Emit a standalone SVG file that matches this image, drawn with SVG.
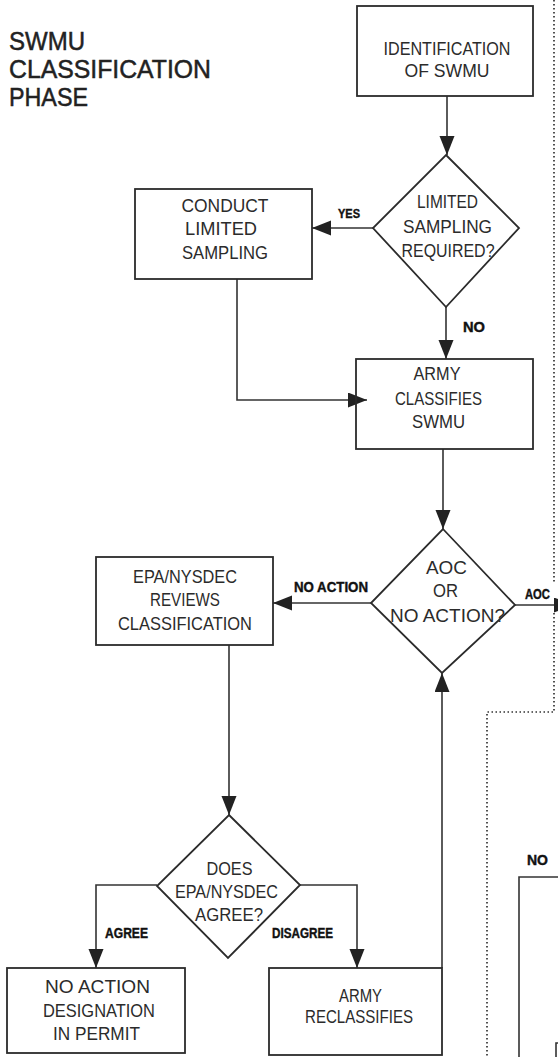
<svg xmlns="http://www.w3.org/2000/svg" width="558" height="1057" viewBox="0 0 558 1057">
<style>
.bg{fill:#fff}
.box{fill:none;stroke:#2b2b2b;stroke-width:1.8}
.ln{fill:none;stroke:#333;stroke-width:1.6}
.dot{fill:none;stroke:#333;stroke-width:1.7;stroke-dasharray:1.5 2.5}
.t{font-family:"Liberation Sans",Arial,sans-serif;font-size:18px;fill:#2b2b2b;text-anchor:middle}
.lb{font-family:"Liberation Sans",Arial,sans-serif;font-size:14px;font-weight:bold;fill:#111;stroke:#111;stroke-width:0.4;text-anchor:middle}
.title{font-family:"Liberation Sans",Arial,sans-serif;font-size:26px;fill:#222;stroke:#222;stroke-width:0.5}
</style>
<defs>
<marker id="ah" markerUnits="userSpaceOnUse" markerWidth="20" markerHeight="16" refX="19" refY="7.5" orient="auto">
<path d="M0,0 L19,7.5 L0,15 z" fill="#222"/>
</marker>
</defs>
<rect class="bg" x="0" y="0" width="558" height="1057"/>

<g id="title">
<text class="title" x="9" y="50" textLength="76" lengthAdjust="spacingAndGlyphs">SWMU</text>
<text class="title" x="9" y="78" textLength="202" lengthAdjust="spacingAndGlyphs">CLASSIFICATION</text>
<text class="title" x="9" y="106" textLength="79" lengthAdjust="spacingAndGlyphs">PHASE</text>
</g>

<g id="boundary">
<path class="dot" d="M554,0 V583 M554,613 V712 H487 V1057"/>
<path class="ln" d="M519,1057 V877 H558"/>
<path class="ln" d="M558,1043 H556 V1057"/>
<text class="lb" x="537.5" y="865" textLength="21" lengthAdjust="spacingAndGlyphs">NO</text>
</g>

<g id="connectors">
<path class="ln" d="M447,96 V155" marker-end="url(#ah)"/>
<path class="ln" d="M373,228 H312" marker-end="url(#ah)"/>
<path class="ln" d="M237,279 V400 H367" marker-end="url(#ah)"/>
<path class="ln" d="M446,307 V359" marker-end="url(#ah)"/>
<path class="ln" d="M443,449 V529" marker-end="url(#ah)"/>
<path class="ln" d="M371,603 H273" marker-end="url(#ah)"/>
<path class="ln" d="M515,605 H573" marker-end="url(#ah)"/>
<path class="ln" d="M229,645 V815" marker-end="url(#ah)"/>
<path class="ln" d="M157,885 H96 V968" marker-end="url(#ah)"/>
<path class="ln" d="M300,885 H357 V968" marker-end="url(#ah)"/>
<path class="ln" d="M442,968 V673" marker-end="url(#ah)"/>
<text class="lb" x="349" y="218" textLength="22" lengthAdjust="spacingAndGlyphs" style="font-size:13px">YES</text>
<text class="lb" x="474" y="332" textLength="22" lengthAdjust="spacingAndGlyphs">NO</text>
<text class="lb" x="331" y="592" textLength="74" lengthAdjust="spacingAndGlyphs">NO ACTION</text>
<text class="lb" x="537.5" y="599" textLength="25" lengthAdjust="spacingAndGlyphs">AOC</text>
<text class="lb" x="126.5" y="938" textLength="43" lengthAdjust="spacingAndGlyphs">AGREE</text>
<text class="lb" x="302.5" y="938" textLength="61" lengthAdjust="spacingAndGlyphs">DISAGREE</text>
</g>

<g id="identification">
<rect class="box" x="357" y="6" width="176" height="90"/>
<text class="t" x="447" y="55" textLength="127" lengthAdjust="spacingAndGlyphs">IDENTIFICATION</text>
<text class="t" x="447" y="77" textLength="85" lengthAdjust="spacingAndGlyphs">OF SWMU</text>
</g>

<g id="limited-sampling-required">
<polygon class="box" points="446,155 519,228 446,307 373,228"/>
<text class="t" x="447.5" y="208" textLength="61" lengthAdjust="spacingAndGlyphs">LIMITED</text>
<text class="t" x="447.5" y="233" textLength="89" lengthAdjust="spacingAndGlyphs">SAMPLING</text>
<text class="t" x="448" y="257" textLength="93" lengthAdjust="spacingAndGlyphs">REQUIRED?</text>
</g>

<g id="conduct-limited-sampling">
<rect class="box" x="135" y="189" width="177" height="90"/>
<text class="t" x="225" y="212" textLength="87" lengthAdjust="spacingAndGlyphs">CONDUCT</text>
<text class="t" x="221" y="235" textLength="72" lengthAdjust="spacingAndGlyphs">LIMITED</text>
<text class="t" x="225" y="259" textLength="86" lengthAdjust="spacingAndGlyphs">SAMPLING</text>
</g>

<g id="army-classifies">
<rect class="box" x="356" y="359" width="177" height="90"/>
<text class="t" x="437" y="380" textLength="47" lengthAdjust="spacingAndGlyphs">ARMY</text>
<text class="t" x="438.5" y="405" textLength="87" lengthAdjust="spacingAndGlyphs">CLASSIFIES</text>
<text class="t" x="438.5" y="428" textLength="53" lengthAdjust="spacingAndGlyphs">SWMU</text>
</g>

<g id="aoc-or-no-action">
<polygon class="box" points="443,529 515,605 442,673 371,603"/>
<text class="t" x="446.5" y="574" textLength="41" lengthAdjust="spacingAndGlyphs">AOC</text>
<text class="t" x="445.5" y="597" textLength="25" lengthAdjust="spacingAndGlyphs">OR</text>
<text class="t" x="447.5" y="622" textLength="115" lengthAdjust="spacingAndGlyphs">NO ACTION?</text>
</g>

<g id="epa-reviews">
<rect class="box" x="96" y="557" width="177" height="88"/>
<text class="t" x="185" y="583" textLength="104" lengthAdjust="spacingAndGlyphs">EPA/NYSDEC</text>
<text class="t" x="185" y="606" textLength="70" lengthAdjust="spacingAndGlyphs">REVIEWS</text>
<text class="t" x="185" y="630" textLength="134" lengthAdjust="spacingAndGlyphs">CLASSIFICATION</text>
</g>

<g id="does-epa-agree">
<polygon class="box" points="229,815 300,885 228,958 157,886"/>
<text class="t" x="229.5" y="875" textLength="46" lengthAdjust="spacingAndGlyphs">DOES</text>
<text class="t" x="226.5" y="898" textLength="103" lengthAdjust="spacingAndGlyphs">EPA/NYSDEC</text>
<text class="t" x="229" y="921" textLength="68" lengthAdjust="spacingAndGlyphs">AGREE?</text>
</g>

<g id="no-action-designation">
<rect class="box" x="7" y="968" width="178" height="85"/>
<text class="t" x="97.5" y="993" textLength="105" lengthAdjust="spacingAndGlyphs">NO ACTION</text>
<text class="t" x="99" y="1017" textLength="112" lengthAdjust="spacingAndGlyphs">DESIGNATION</text>
<text class="t" x="96.5" y="1040" textLength="87" lengthAdjust="spacingAndGlyphs">IN PERMIT</text>
</g>

<g id="army-reclassifies">
<rect class="box" x="269" y="968" width="173" height="87"/>
<text class="t" x="360.5" y="1002" textLength="43" lengthAdjust="spacingAndGlyphs">ARMY</text>
<text class="t" x="359" y="1023" textLength="108" lengthAdjust="spacingAndGlyphs">RECLASSIFIES</text>
</g>
</svg>
